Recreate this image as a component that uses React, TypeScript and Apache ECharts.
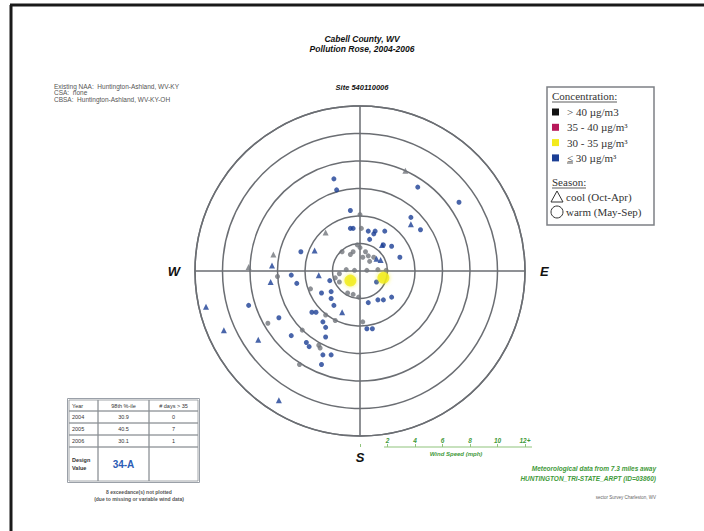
import React, { useEffect, useRef } from "react";
import * as echarts from "echarts";

// Daily PM2.5 samples as wind vectors (mph): [east component, north component]
const warmLow: [number, number][] = [
  [-1.9, 6.7], [-1.7, 5.9], [-0.7, 4.4], [-0.7, 3.1], [-0.5, 3.1], [0.6, 2.9], [1.1, 2.9],
  [1.8, 2.9], [1.0, 2.7], [0.7, 2.3], [2.3, 1.8], [1.7, 1.9], [2.9, 1.0], [-4.3, 1.4],
  [-5.0, -0.3], [-4.6, -0.9], [-2.2, -0.7], [-2.8, -1.6], [1.2, -0.8], [-8.1, -2.5],
  [-5.9, -3.4], [-5.0, -4.7], [-3.9, -5.2], [-3.7, -5.5], [-3.5, -3.0], [-3.2, -3.0],
  [-2.1, -1.5], [-2.1, -2.0], [-1.9, -2.5], [-2.7, -3.7], [-2.5, -4.1], [-2.5, -4.8],
  [-2.7, -6.1], [-2.1, -6.1], [-2.8, -6.8], [0.6, -2.3], [1.3, -2.1], [1.7, -2.1],
  [2.3, -1.9], [0.5, -4.2], [0.9, -4.2], [4.2, 6.1], [7.2, 5.0], [3.7, 3.9], [4.4, 3.0],
];
const coolLow: [number, number][] = [
  [1.2, 0.9], [1.5, 0.8], [-3.3, 1.5], [-6.4, 0.4], [-6.5, -0.8], [-3.0, -0.3],
  [-11.2, -2.6], [-9.9, -4.3], [-7.4, -5.0], [-5.9, -9.4], [-1.3, -3.0], [3.7, 3.4], [1.6, 1.9],
];
const warmOther: [number, number][] = [
  [0, 4.1], [0.1, 3.1], [-0.2, 1.9], [0, 1.7], [-0.5, 1.4], [-0.7, 1.2], [0.2, 1.0],
  [0.6, 1.1], [0.7, 0.7], [0.4, 1.4], [-1.5, -0.2], [-1.8, -0.5], [-1.5, -0.8], [-1.0, 0.1],
  [-0.4, 0.05], [0.5, 0.05], [1.3, 0.1], [1.9, 0.05], [-0.9, -1.6], [-0.5, -1.7], [-0.1, -1.9],
  [-3.6, -1.3], [-4.4, -6.8], [-3.0, -5.4], [-2.9, -5.6], [-4.2, -4.3], [-6.7, -3.8],
  [-2.5, -3.2], [-1.8, -3.6], [0.2, -3.7], [-6.0, -0.4], [-1.3, 1.4], [1.0, 1.0],
];
const coolOther: [number, number][] = [[-2.5, 2.8], [-6.3, 1.2], [-8.1, 0.3], [3.3, 7.3]];
const warmMid: [number, number][] = [[-0.7, -0.7], [1.7, -0.5]];

const compass: Record<number, string> = { 90: "E", 180: "S", 270: "W" };

const tableHead = ["Year", "98th %-ile", "# days > 35"];
const tableYears = ["2004", "2005", "2006"];
const tablePct = ["30.9", "40.5", "30.1"];
const tableDays = ["0", "7", "1"];
const designValue = "34-A";

const legendConc = [
  { label: "> 40 µg/m3", color: "#111111" },
  { label: "35 - 40 µg/m³", color: "#b8185a" },
  { label: "30 - 35 µg/m³", color: "#f3ea1c" },
  { label: "≤ 30 µg/m³", color: "#1c3f95" },
];

const toPolar = (pts: [number, number][]) =>
  pts.map(([u, v]) => {
    const r = Math.hypot(u, v);
    let a = (Math.atan2(u, v) * 180) / Math.PI;
    if (a < 0) a += 360;
    return [r, a];
  });

const BLUE = "#1c3f95";
const GRAY = "#72767c";
const GREEN = "#3f9a3a";
const SANS = "Liberation Sans, Arial, sans-serif";
const SERIF = "Liberation Serif, Times New Roman, serif";

function buildGraphics() {
  const g: any[] = [];
  // page frame
  g.push({ type: "line", shape: { x1: 10, y1: 5, x2: 704, y2: 5 }, style: { stroke: "#1a1a1a", lineWidth: 3 } });
  g.push({ type: "line", shape: { x1: 11, y1: 5, x2: 11, y2: 531 }, style: { stroke: "#1a1a1a", lineWidth: 3 } });

  // titles
  g.push({ type: "text", x: 362, y: 39, style: { text: "Cabell County, WV", font: `italic bold 8.5px ${SANS}`, fill: "#111", align: "center", verticalAlign: "middle" } });
  g.push({ type: "text", x: 362, y: 49, style: { text: "Pollution Rose, 2004-2006", font: `italic bold 8.5px ${SANS}`, fill: "#111", align: "center", verticalAlign: "middle" } });
  g.push({ type: "text", x: 362, y: 87, style: { text: "Site 540110006", font: `italic bold 7.5px ${SANS}`, fill: "#111", align: "center", verticalAlign: "middle" } });

  // area designations
  ["Existing NAA:  Huntington-Ashland, WV-KY", "CSA:  none", "CBSA:  Huntington-Ashland, WV-KY-OH"].forEach((t, i) => {
    g.push({ type: "text", x: 54, y: 86 + i * 6.5, style: { text: t, font: `6.5px ${SANS}`, fill: "#555", verticalAlign: "middle" } });
  });

  // legend box
  g.push({ type: "rect", shape: { x: 547, y: 87, width: 107, height: 138 }, style: { fill: "#fff", stroke: "#7d8085", lineWidth: 1.5 } });
  g.push({ type: "text", x: 552, y: 96, style: { text: "Concentration:", font: `11px ${SERIF}`, fill: "#333", verticalAlign: "middle" } });
  g.push({ type: "line", shape: { x1: 552, y1: 102, x2: 617, y2: 102 }, style: { stroke: "#333", lineWidth: 0.8 } });
  legendConc.forEach((it, i) => {
    const y = 112 + i * 15.3;
    g.push({ type: "rect", shape: { x: 552, y: y - 3.5, width: 7, height: 7 }, style: { fill: it.color } });
    g.push({ type: "text", x: 567, y, style: { text: it.label, font: `11px ${SERIF}`, fill: "#333", verticalAlign: "middle" } });
  });
  g.push({ type: "line", shape: { x1: 567, y1: 163, x2: 573, y2: 163 }, style: { stroke: "#333", lineWidth: 0.8 } });
  g.push({ type: "text", x: 552, y: 182, style: { text: "Season:", font: `11px ${SERIF}`, fill: "#333", verticalAlign: "middle" } });
  g.push({ type: "line", shape: { x1: 552, y1: 188, x2: 586, y2: 188 }, style: { stroke: "#333", lineWidth: 0.8 } });
  g.push({ type: "polygon", shape: { points: [[557, 191], [551, 202], [563, 202]] }, style: { fill: "none", stroke: "#333", lineWidth: 1 } });
  g.push({ type: "text", x: 566, y: 197, style: { text: "cool (Oct-Apr)", font: `11px ${SERIF}`, fill: "#333", verticalAlign: "middle" } });
  g.push({ type: "circle", shape: { cx: 557, cy: 212, r: 6 }, style: { fill: "none", stroke: "#333", lineWidth: 1 } });
  g.push({ type: "text", x: 566, y: 212, style: { text: "warm (May-Sep)", font: `11px ${SERIF}`, fill: "#333", verticalAlign: "middle" } });

  // wind speed scale caption and bar
  g.push({ type: "line", shape: { x1: 384, y1: 447, x2: 532, y2: 447 }, style: { stroke: "#8fc47c", lineWidth: 1.2 } });
  g.push({ type: "text", x: 456, y: 454, style: { text: "Wind Speed (mph)", font: `italic bold 6px ${SANS}`, fill: GREEN, align: "center", verticalAlign: "middle" } });

  // meteorological source
  g.push({ type: "text", x: 656, y: 468, style: { text: "Meteorological data from 7.3 miles away", font: `italic bold 6.5px ${SANS}`, fill: GREEN, align: "right", verticalAlign: "middle" } });
  g.push({ type: "text", x: 656, y: 478, style: { text: "HUNTINGTON_TRI-STATE_ARPT (ID=03860)", font: `italic bold 6.5px ${SANS}`, fill: GREEN, align: "right", verticalAlign: "middle" } });
  g.push({ type: "text", x: 656, y: 497, style: { text: "sector Survey Charleston, WV", font: `4.5px ${SANS}`, fill: "#666", align: "right", verticalAlign: "middle" } });

  // design value table
  const x0 = 69, cols = [69, 98, 149, 198], rows = [400, 411, 423, 435, 447, 481];
  g.push({ type: "rect", shape: { x: x0 - 1.5, y: rows[0] - 1.5, width: cols[3] - x0 + 3, height: rows[5] - rows[0] + 3 }, style: { fill: "none", stroke: "#9aa0a8", lineWidth: 1 } });
  for (let r = 0; r < 5; r++) {
    for (let c = 0; c < 3; c++) {
      g.push({ type: "rect", shape: { x: cols[c], y: rows[r], width: cols[c + 1] - cols[c], height: rows[r + 1] - rows[r] }, style: { fill: "none", stroke: "#8a8f96", lineWidth: 0.8 } });
    }
  }
  const cell = (text: string, c: number, r: number, align: string, extra: any = {}) => {
    const x = align === "left" ? cols[c] + 3 : (cols[c] + cols[c + 1]) / 2;
    g.push({ type: "text", x, y: (rows[r] + rows[r + 1]) / 2, style: { text, font: `5.5px ${SANS}`, fill: "#333", align, verticalAlign: "middle", ...extra } });
  };
  tableHead.forEach((t, i) => cell(t, i, 0, i === 0 ? "left" : "center"));
  tableYears.forEach((y, i) => {
    cell(y, 0, i + 1, "left");
    cell(tablePct[i], 1, i + 1, "center");
    cell(tableDays[i], 2, i + 1, "center");
  });
  cell("Design\nValue", 0, 4, "left", { lineHeight: 8, font: `bold 5.5px ${SANS}` });
  cell(designValue, 1, 4, "center", { font: `bold 10px ${SANS}`, fill: "#2b5cb5" });
  g.push({ type: "text", x: 139, y: 492, style: { text: "8 exceedance(s) not plotted", font: `bold 5px ${SANS}`, fill: "#555", align: "center", verticalAlign: "middle" } });
  g.push({ type: "text", x: 139, y: 499, style: { text: "(due to missing or variable wind data)", font: `bold 5px ${SANS}`, fill: "#555", align: "center", verticalAlign: "middle" } });
  return g;
}

export default function App() {
  const ref = useRef<HTMLDivElement>(null);
  useEffect(() => {
    if (!ref.current) return;
    const chart = echarts.init(ref.current, null, { renderer: "svg" });
    const dot = (name: string, data: [number, number][], symbol: string, size: number, color: string, extra: any = {}) => ({
      name,
      type: "scatter",
      coordinateSystem: "polar",
      data: toPolar(data),
      symbol,
      symbolSize: size,
      itemStyle: { color, ...extra },
      z: 3,
    });
    chart.setOption({
      animation: false,
      backgroundColor: "#ffffff",
      polar: { center: [360, 271], radius: 165 },
      angleAxis: {
        type: "value",
        min: 0,
        max: 360,
        interval: 90,
        startAngle: 90,
        clockwise: true,
        axisLine: { show: true, lineStyle: { color: "#6b6e73", width: 1.5 } },
        axisTick: { show: false },
        splitLine: { show: true, lineStyle: { color: "#6b6e73", width: 1.5 } },
        axisLabel: {
          margin: 15,
          formatter: (v: number) => compass[v] || "",
          fontFamily: SANS,
          fontStyle: "italic",
          fontWeight: "bold",
          fontSize: 13,
          color: "#111",
        },
      },
      radiusAxis: {
        type: "value",
        min: 0,
        max: 12,
        interval: 2,
        axisLine: { show: false },
        axisTick: { show: false },
        axisLabel: { show: false },
        splitLine: { show: true, lineStyle: { color: "#6b6e73", width: 1.5 } },
      },
      grid: { left: 360, top: 447, width: 165, height: 0 },
      xAxis: {
        type: "value",
        position: "top",
        min: 0,
        max: 12,
        interval: 2,
        axisLine: { show: false },
        axisTick: { show: true, length: 3, inside: false, lineStyle: { color: "#8fc47c" } },
        splitLine: { show: false },
        axisLabel: {
          margin: 3,
          formatter: (v: number) => (v === 0 ? "" : v === 12 ? "12+" : String(v)),
          fontFamily: SANS,
          fontStyle: "italic",
          fontWeight: "bold",
          fontSize: 6.5,
          color: GREEN,
        },
      },
      yAxis: { type: "value", show: false, min: 0, max: 1 },
      series: [
        dot("other-warm", warmOther, "circle", 5, GRAY),
        dot("other-cool", coolOther, "triangle", 6, GRAY),
        dot("low-warm", warmLow, "circle", 5, BLUE),
        dot("low-cool", coolLow, "triangle", 6, BLUE),
        dot("mid-warm", warmMid, "circle", 12, "#f1ec1a", { shadowBlur: 4, shadowColor: "rgba(241,236,26,0.8)" }),
      ],
      graphic: buildGraphics(),
    });
    return () => chart.dispose();
  }, []);
  return <div ref={ref} style={{ position: "fixed", left: 0, top: 0, width: 704, height: 531 }} />;
}
